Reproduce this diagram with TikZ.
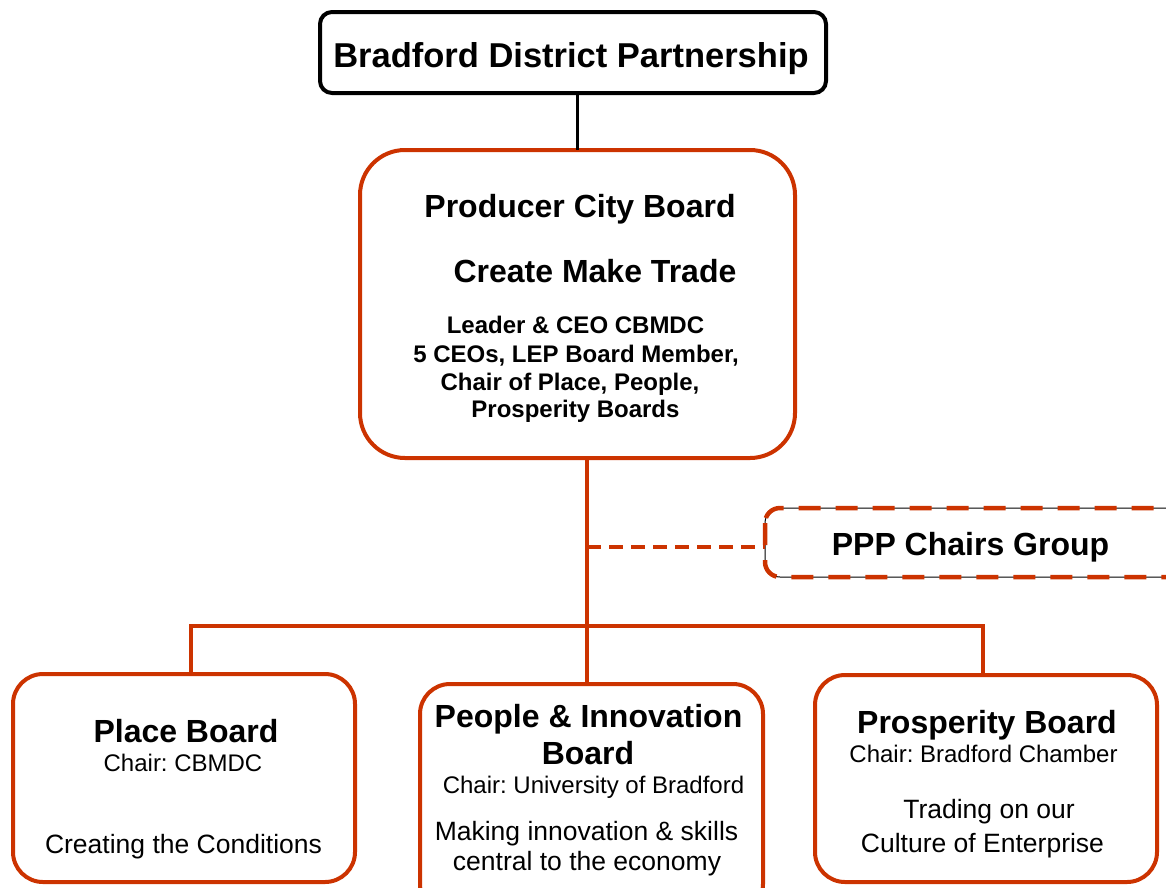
\documentclass[tikz,border=0pt]{standalone}
\usepackage{fontspec}
\setmainfont{Liberation Sans}
\usepackage{xcolor}
\usepackage{tikz}
\usetikzlibrary{positioning,calc}

\definecolor{bdorange}{RGB}{204,51,0}
\frenchspacing

\begin{document}
\begin{tikzpicture}[x=1pt,y=-1pt,
    every node/.style={inner sep=0pt,outer sep=0pt},
    topbox/.style={draw=black,line width=4pt,rounded corners=12pt},
    board/.style={draw=bdorange,line width=4pt,rounded corners=30pt},
    chairsbox/.style={draw=black,line width=1pt,rounded corners=15pt},
    link/.style={draw=bdorange,line width=3.5pt},
    bigtitle/.style={anchor=base,font=\fontsize{34.5}{40}\selectfont\bfseries},
    heading/.style={anchor=base,font=\fontsize{32}{38}\selectfont\bfseries},
    members/.style={anchor=base,font=\fontsize{24}{29}\selectfont\bfseries},
    chair/.style={anchor=base,font=\fontsize{24}{29}\selectfont},
    motto/.style={anchor=base,font=\fontsize{26.5}{31}\selectfont}]
      \useasboundingbox (0,0) rectangle (1166,887);

      \node[topbox, anchor=north west, minimum width=506, minimum height=81]
        (bdp) at (320,12) {};
      \node[bigtitle] (bdp title) at (571,67) {Bradford District Partnership};

      \node[board, anchor=north west, rounded corners=45pt,
          minimum width=435, minimum height=308] (pcb) at (360,150) {};
      \node[heading] (pcb title) at (580,217) {Producer City Board};
      \node[heading] (pcb motto) at (595,282) {Create Make Trade};
      \node[members] (pcb line1) at (575.5,333) {Leader \& CEO CBMDC};
      \node[members] (pcb line2) at (576,362) {5 CEOs, LEP Board Member,};
      \node[members] (pcb line3) at (570,390) {Chair of Place, People,};
      \node[members] (pcb line4) at (575.5,417) {Prosperity Boards};

      \node[chairsbox, anchor=north west, minimum width=420, minimum height=69]
        (ppp) at (765,508) {};
      \draw[bdorange, line width=4.5pt, rounded corners=15pt, dash pattern=on 22pt off 15pt]
        (ppp.north west) rectangle (ppp.south east);
      \node[heading] (ppp title) at (970.5,555) {PPP Chairs Group};

      \node[board, anchor=north west, minimum width=342, minimum height=208]
        (place) at (13,674) {};
      \node[heading] (place title) at (186,742) {Place Board};
      \node[chair] (place chair) at (183,771) {Chair: CBMDC};
      \node[motto] (place motto) at (183.5,853) {Creating the Conditions};

      \node[board, anchor=north west, minimum width=343, minimum height=230]
        (people) at (420,684) {};
      \node[heading] (people title1) at (588.5,727) {People \& Innovation};
      \node[heading] (people title2) at (588,764) {Board};
      \node[chair] (people chair) at (593.5,793) {Chair: University of Bradford};
      \node[motto] (people motto1) at (586.5,840) {Making innovation \& skills};
      \node[motto] (people motto2) at (587,870) {central to the economy};

      \node[board, anchor=north west, minimum width=342, minimum height=207]
        (prosperity) at (815,675) {};
      \node[heading] (prosperity title) at (987,733) {Prosperity Board};
      \node[chair] (prosperity chair) at (983.5,762) {Chair: Bradford Chamber};
      \node[motto] (prosperity motto1) at (989,818) {Trading on our};
      \node[motto] (prosperity motto2) at (982.5,852) {Culture of Enterprise};

      \coordinate (split) at (587,626);
      \coordinate (place in) at (191,626);
      \coordinate (prosperity in) at (983,626);

      \draw[black, line width=3pt] (bdp.south -| 577,0) -- (pcb.north -| 577,0);
      \draw[link] (split |- pcb.south) -- (split |- people.north);
      \draw[link] (place in |- place.north) -- (place in) -- (prosperity in) -- (prosperity in |- prosperity.north);
      \draw[link, dash pattern=on 14pt off 8pt] (split |- 0,547) -- (ppp.west |- 0,547);
    \end{tikzpicture}
\end{document}
